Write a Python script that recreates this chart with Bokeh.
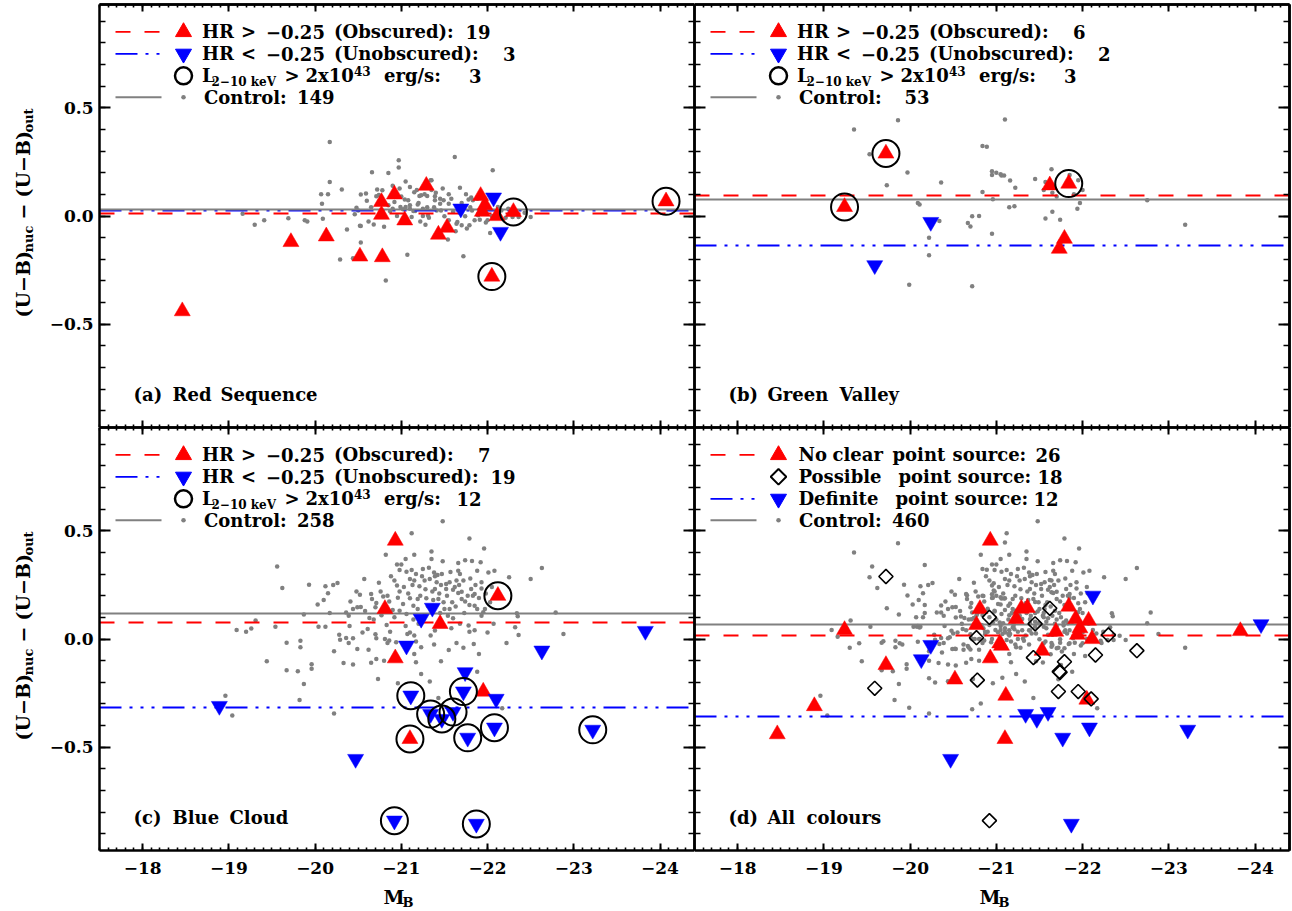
import math
from bokeh.plotting import figure
from bokeh.models import Range1d, LinearAxis, FixedTicker, CustomJSTickFormatter
from bokeh.layouts import row, column
from bokeh.embed import file_html
from bokeh.resources import INLINE
from bokeh.core.properties import value

# ---------------------------------------------------------------- data
# (a) Red Sequence
A_CTRL_MB = [-19.16, -19.30, -19.41, -19.69, -19.88, -19.91, -20.09, -20.17, -20.17, -20.07,
             -20.15, -20.08, -20.31, -20.29, -20.37, -20.44, -20.46, -20.48, -20.50, -20.52,
             -20.53, -20.53, -20.53, -20.59, -20.62, -20.66, -20.68, -20.72, -20.71, -20.74,
             -20.78, -20.82, -20.85, -20.87, -20.90, -20.92, -20.97, -20.97, -20.98, -20.99,
             -21.02, -21.04, -21.07, -21.05, -21.08, -21.10, -21.10, -21.12, -21.14, -21.16,
             -21.19, -21.21, -21.22, -21.23, -21.25, -21.27, -21.30, -21.31, -21.32, -21.34,
             -21.35, -21.39, -21.39, -21.40, -21.41, -21.45, -21.46, -21.48, -21.49, -21.50,
             -21.54, -21.55, -21.55, -21.62, -21.63, -21.64, -21.65, -21.68, -21.70, -21.72,
             -21.74, -21.76, -21.78, -21.79, -21.81, -21.82, -21.83, -21.85, -21.89, -21.90,
             -21.91, -22.03, -22.06, -22.12, -22.16, -22.21, -22.24, -22.29, -22.36, -22.43,
             -22.50,
             -20.85, -20.95, -21.00, -21.20, -21.15, -21.30, -21.35, -21.45, -21.60, -21.70,
             -21.80, -21.95, -22.00, -22.05, -20.65, -20.75, -21.10, -21.25, -21.55, -21.88,
             -20.60, -20.90, -21.05, -21.18, -21.38, -21.58, -21.75, -21.98, -20.80, -21.28]
A_CTRL_DUB = [0.010, -0.040, -0.020, -0.010, -0.020, -0.025, -0.013, 0.342, 0.157, 0.100,
              0.100, 0.057, 0.123, -0.201, -0.063, -0.195, 0.008, 0.038, 0.026, -0.045,
              -0.046, -0.122, 0.099, 0.104, -0.025, 0.202, -0.039, 0.123, 0.091, 0.097,
              0.119, -0.298, 0.199, 0.022, 0.033, 0.065, 0.258, 0.224, 0.127, 0.042,
              0.031, 0.076, -0.179, 0.042, 0.073, 0.134, 0.033, -0.005, 0.023, 0.023,
              0.053, 0.093, -0.025, 0.096, 0.034, 0.100, 0.093, 0.002, -0.008, 0.165,
              0.165, 0.091, 0.073, 0.107, 0.026, 0.057, 0.026, 0.127, 0.073, -0.001,
              -0.109, -0.020, 0.057, 0.273, -0.070, -0.036, -0.028, 0.131, -0.043, -0.186,
              -0.001, -0.058, 0.076, -0.043, 0.085, 0.026, 0.073, -0.020, 0.003, 0.011,
              -0.017, -0.079, 0.212, 0.042, 0.026, -0.008, 0.034, -0.005, -0.005, 0.015,
              -0.005,
              0.05, 0.00, 0.09, 0.06, 0.11, 0.04, 0.12, 0.08, 0.02, 0.06,
              0.04, 0.06, -0.02, 0.00, 0.04, 0.00, 0.05, 0.00, 0.10, 0.08,
              0.07, 0.14, 0.16, 0.12, 0.04, 0.08, 0.10, -0.03, -0.05, -0.04]
A_HARD_MB = [-18.46, -19.72, -20.13, -20.52, -20.78, -20.77, -20.77, -20.92, -21.04, -21.29,
             -21.43, -21.53, -21.92, -21.94, -22.11, -22.30, -22.05, -24.07, -21.97]
A_HARD_DUB = [-0.440, -0.120, -0.094, -0.187, -0.190, 0.065, 0.006, 0.100, -0.020, 0.140,
              -0.086, -0.054, 0.093, 0.020, 0.000, 0.019, -0.280, 0.068, 0.050]
A_HARD_LUM = [0, 0, 0, 0, 0, 0, 0, 0, 0, 0, 0, 0, 0, 0, 0, 1, 1, 1, 0]
A_HARD_PS = ["N", "N", "D", "N", "P", "N", "P", "P", "N", "N",
             "P", "N", "N", "N", "N", "P", "N", "D", "N"]
A_SOFT_MB = [-21.69, -22.07, -22.15]
A_SOFT_DUB = [0.034, 0.085, -0.074]
A_SOFT_LUM = [0, 0, 0]
A_SOFT_PS = ["N", "N", "P"]
A_MED_HARD, A_MED_SOFT, A_MED_CTRL = 0.012, 0.027, 0.030
A_COUNTS = ["19", "3", "3", "149"]

# (b) Green Valley
B_CTRL_MB = [-19.35, -19.86, -19.53, -19.97, -19.73, -20.36, -20.09, -20.11, -20.34, -20.22,
             -20.22, -19.99, -20.72, -20.72, -20.67, -20.70, -20.84, -20.89, -21.10, -20.95,
             -21.05, -21.06, -21.09, -21.16, -21.22, -20.84, -20.96, -21.21, -20.95, -21.45,
             -21.64, -21.57, -21.65, -21.57, -21.74, -21.95, -21.97, -21.94, -22.75, -23.19,
             -21.70, -21.55, -21.85, -21.75, -20.25, -19.25, -21.00, -20.80, -21.90, -20.95,
             -21.15, -21.65, -22.00]
B_CTRL_DUB = [0.400, 0.443, 0.286, 0.201, 0.142, 0.155, 0.060, 0.053, -0.023, -0.100,
              -0.182, -0.318, -0.325, -0.001, -0.032, -0.048, 0.324, 0.320, 0.446, 0.207,
              0.193, 0.187, 0.187, 0.164, 0.131, 0.111, 0.077, 0.045, -0.082, 0.171,
              0.216, 0.157, 0.108, -0.012, -0.017, 0.165, 0.060, 0.034, 0.073, -0.040,
              0.09, 0.12, 0.19, -0.12, -0.04, 0.05, 0.20, 0.00, 0.10, 0.19,
              0.04, 0.02, 0.12]
B_HARD_MB = [-19.72, -19.24, -21.62, -21.84, -21.79, -21.73]
B_HARD_DUB = [0.289, 0.042, 0.142, 0.150, -0.105, -0.151]
B_HARD_LUM = [1, 1, 0, 1, 0, 0]
B_HARD_PS = ["P", "N", "P", "N", "P", "P"]
B_SOFT_MB = [-20.24, -19.59]
B_SOFT_DUB = [-0.028, -0.228]
B_SOFT_LUM = [0, 0]
B_SOFT_PS = ["D", "P"]
B_MED_HARD, B_MED_SOFT, B_MED_CTRL = 0.097, -0.136, 0.077
B_COUNTS = ["6", "2", "3", "53"]

# (c) Blue Cloud
C_CTRL_MB = [-19.56, -19.62, -19.93, -20.12, -20.21, -20.26, -20.15, -20.10, -20.03, -19.87,
             -20.17, -19.31, -19.26, -19.20, -19.09, -19.54, -19.67, -19.83, -19.83, -19.44,
             -19.67, -19.80, -19.96, -19.96, -19.87, -19.82, -18.96, -19.04, -20.22, -20.04,
             -20.12, -20.28, -20.29, -20.36, -20.39, -20.44, -20.22, -20.33, -20.44, -20.49,
             -20.41, -20.52, -20.57, -20.36, -20.39, -20.44, -20.49, -20.53, -20.63, -20.61,
             -20.65, -20.66, -20.71, -20.70, -20.76, -20.79, -20.84, -20.86, -20.96, -20.82,
             -20.95, -21.00, -20.98, -20.70, -20.71, -20.87, -20.83, -20.81, -20.84, -20.86,
             -20.73, -20.65, -20.71, -20.96, -20.90, -20.94,
             -21.48, -21.12, -21.79, -21.96, -21.35, -21.15, -21.35, -21.05, -21.48, -21.66,
             -21.74, -21.82, -21.92, -21.06, -21.12, -21.25, -21.38, -21.42, -21.66, -21.68,
             -21.88, -22.01, -22.08, -22.25, -22.50, -22.63, -21.10, -21.15, -21.21, -21.27,
             -21.33, -21.39, -21.41, -21.46, -21.52, -21.56, -21.64, -21.52, -21.60, -21.70,
             -21.81, -21.85, -21.93, -21.93, -20.95, -21.10, -21.19, -21.29, -21.39, -21.43,
             -21.66, -21.70, -21.74, -21.83, -21.02, -21.14, -21.19, -21.31, -21.50, -21.56,
             -21.79, -21.85, -21.88, -21.95, -21.97, -20.98, -21.06, -20.92, -21.14, -21.54,
             -21.60, -21.93, -22.07, -22.34, -22.35, -22.32, -22.36, -22.79, -22.88, -21.07,
             -21.15, -21.34, -21.39, -21.78, -21.79, -21.17, -21.38, -21.64, -21.84, -22.22,
             -21.15, -21.23, -21.55, -21.90, -21.17, -21.46, -21.23, -21.33, -21.88, -22.17,
             -21.43,
             -20.92, -20.98, -21.03, -21.08, -21.13, -21.17, -21.22, -21.24, -21.28, -21.32,
             -21.36, -21.37, -21.44, -21.47, -21.49, -21.53, -21.57, -21.59, -21.62, -21.63,
             -21.67, -21.72, -21.73, -21.77, -21.80, -21.86, -21.90, -21.98, -22.03, -22.05,
             -21.05, -21.10, -21.20, -21.27, -21.45, -21.58, -21.68, -21.72, -21.85, -22.00,
             -20.40, -20.48, -20.55, -20.58, -20.62, -20.68, -20.74, -20.77, -20.80, -20.88]
C_CTRL_DUB = [0.335, 0.236, 0.251, 0.244, 0.250, 0.259, 0.211, 0.180, 0.159, 0.113,
              0.120, 0.085, 0.049, 0.034, 0.042, 0.057, -0.017, -0.008, -0.038, -0.103,
              -0.145, -0.149, -0.138, -0.117, -0.208, -0.282, -0.262, -0.354, -0.345, 0.057,
              0.057, 0.020, -0.004, 0.005, -0.018, 0.003, -0.057, -0.111, -0.118, -0.046,
              0.173, 0.205, 0.277, 0.123, 0.108, 0.139, 0.147, 0.148, 0.097, 0.046,
              0.208, 0.185, 0.167, 0.147, 0.220, 0.197, 0.200, 0.173, 0.191, 0.390,
              0.344, 0.344, 0.319, 0.022, 0.003, 0.034, 0.065, 0.000, -0.018, -0.007,
              -0.185, -0.110, -0.092, -0.205, 0.134, -0.015,
              0.544, 0.489, 0.465, 0.419, 0.405, 0.390, 0.370, 0.370, 0.359, 0.351,
              0.364, 0.361, 0.355, 0.311, 0.319, 0.324, 0.308, 0.296, 0.316, 0.301,
              0.316, 0.308, 0.316, 0.285, 0.278, 0.328, 0.277, 0.270, 0.244, 0.270,
              0.277, 0.290, 0.262, 0.250, 0.254, 0.262, 0.270, 0.231, 0.228, 0.219,
              0.231, 0.208, 0.262, 0.234, 0.247, 0.188, 0.185, 0.188, 0.231, 0.185,
              0.213, 0.185, 0.173, 0.200, 0.162, 0.154, 0.139, 0.151, 0.139, 0.139,
              0.157, 0.154, 0.139, 0.124, 0.139, 0.131, 0.116, 0.100, 0.090, 0.108,
              0.096, 0.108, 0.070, 0.119, 0.105, 0.054, 0.019, 0.123, 0.023, 0.023,
              0.016, 0.016, 0.039, 0.062, 0.034, -0.012, -0.026, -0.018, -0.023, -0.018,
              -0.069, -0.038, -0.051, -0.069, -0.108, -0.103, -0.162, -0.197, -0.151, -0.320,
              -0.273,
              0.27, 0.22, 0.24, 0.21, 0.25, 0.30, 0.20, 0.29, 0.23, 0.33,
              0.22, 0.18, 0.21, 0.30, 0.17, 0.20, 0.31, 0.17, 0.24, 0.15,
              0.25, 0.27, 0.12, 0.20, 0.28, 0.25, 0.19, 0.21, 0.17, 0.24,
              0.06, 0.03, 0.07, 0.11, 0.12, 0.05, 0.07, -0.04, 0.04, 0.03,
              0.06, 0.22, 0.03, 0.13, -0.05, 0.09, 0.26, 0.11, -0.10, 0.29]
C_HARD_MB = [-20.93, -20.81, -20.93, -21.45, -22.12, -21.95, -21.10]
C_HARD_DUB = [0.455, 0.139, -0.089, 0.070, 0.200, -0.243, -0.462]
C_HARD_LUM = [0, 0, 0, 0, 1, 0, 1]
C_HARD_PS = ["N", "N", "N", "P", "D", "P", "N"]
C_SOFT_MB = [-18.89, -20.47, -21.23, -21.36, -21.06, -21.74, -21.72, -21.11, -22.10, -22.63,
             -23.83, -23.22, -22.08, -21.77, -21.34, -21.47, -21.60, -20.92, -21.87]
C_SOFT_DUB = [-0.310, -0.555, 0.093, 0.144, -0.031, -0.154, -0.243, -0.262, -0.277, -0.054,
              0.037, -0.420, -0.410, -0.457, -0.347, -0.370, -0.338, -0.840, -0.855]
C_SOFT_LUM = [0, 0, 0, 0, 0, 0, 1, 1, 0, 0, 0, 1, 1, 1, 1, 1, 1, 1, 1]
C_SOFT_PS = ["N", "D", "N", "N", "N", "P", "P", "N", "P", "P",
             "N", "D", "D", "D", "D", "D", "D", "P", "D"]
C_MED_HARD, C_MED_SOFT, C_MED_CTRL = 0.077, -0.319, 0.120
C_COUNTS = ["7", "19", "12", "258"]

# (d) All colours: medians and counts
D_MED_NONE, D_MED_DEF, D_MED_CTRL = 0.018, -0.359, 0.069
D_COUNTS = ["26", "18", "12", "460"]

# ---------------------------------------------------------------- style
FONT = "DejaVu Serif"
RED, BLUE, GRAY = "#ff0000", "#0000ff", "#808080"
XR = (-17.5, -24.4)
YR = (-0.978, 0.978)
FW, FH = 595, 423
LEFT_B, BOT_B, TOP_B, RIGHT_B = 50, 34, 4, 6
YLAB_W = 46
XLAB_H = 27
DASH_RED = "15 14"
DASH_BLUE = "22 8 3 8 3 8 3 8"


def px2x(dx):
    return XR[0] + (XR[1] - XR[0]) * dx / FW


DYPX = (YR[1] - YR[0]) / FH
XMAJ = [-18, -19, -20, -21, -22, -23, -24]
XMIN = [round(-17.5 - 0.1 * i, 1) for i in range(70)]
YMAJ = [-0.5, 0.0, 0.5]
YMIN = [round(-0.9 + 0.1 * i, 1) for i in range(19)]


def base_axis(ticker):
    ax = LinearAxis(ticker=ticker)
    ax.axis_line_width = 2.5
    ax.axis_line_color = "black"
    ax.major_tick_out = 0
    ax.minor_tick_out = 0
    ax.major_tick_line_width = 2
    ax.minor_tick_line_width = 1.6
    ax.axis_label_standoff = 0
    return ax


def add_axis(p, side, labels):
    is_x = side in ("below", "above")
    maj, mnr = (XMAJ, XMIN) if is_x else (YMAJ, YMIN)
    long_t, short_t = (7, 3) if is_x else (11, 6)
    if labels:
        ax = base_axis(FixedTicker(ticks=maj, minor_ticks=mnr))
        ax.major_tick_in = long_t
        ax.minor_tick_in = short_t
        digits = 0 if is_x else 1
        ax.formatter = CustomJSTickFormatter(
            code="return (tick < -1e-9 ? '\u2212' : '') + Math.abs(tick).toFixed(%d);" % digits)
        ax.major_label_text_font = FONT
        ax.major_label_text_font_size = "17px"
        ax.major_label_text_font_style = "bold"
        ax.major_label_text_color = "black"
        ax.major_label_standoff = 11 if is_x else 6
        p.add_layout(ax, side)
    else:
        # unlabelled mirror axes: tick marks only (drawn as minor ticks, no tick labels)
        ax1 = base_axis(FixedTicker(ticks=[], minor_ticks=mnr))
        ax1.minor_tick_in = short_t
        ax2 = base_axis(FixedTicker(ticks=[], minor_ticks=maj))
        ax2.minor_tick_in = long_t
        ax2.minor_tick_line_width = 2
        p.add_layout(ax1, side)
        p.add_layout(ax2, side)


def make_panel(left, right, top, bottom, xlab, ylab):
    p = figure(frame_width=FW, frame_height=FH,
               x_range=Range1d(*XR), y_range=Range1d(*YR),
               x_axis_type=None, y_axis_type=None,
               output_backend="svg", toolbar_location=None,
               min_border_left=left, min_border_right=right,
               min_border_top=top, min_border_bottom=bottom,
               background_fill_color="white", border_fill_color="white",
               outline_line_color=None)
    add_axis(p, "left", ylab)
    add_axis(p, "below", xlab)
    add_axis(p, "right", False)
    add_axis(p, "above", False)
    return p


def txt(p, x, y, s, size="18px", align="left", angle=0.0):
    p.text(x=[x], y=[y], text=[s], angle=angle, text_font=value(FONT),
           text_font_size=value(size), text_font_style=value("bold"),
           text_baseline=value("middle"), text_align=value(align), text_color="black")


ROWS = [0.851, 0.750, 0.648, 0.549]
LX = [px2x(16), px2x(62)]
SX = px2x(84)
NUM_RIGHT = [391, 416, 382, 235]


def words(p, r, items):
    for off, s in items:
        txt(p, px2x(off), ROWS[r], s)


def number(p, r, s, right):
    txt(p, px2x(right), ROWS[r], s, align="right")


def legend_line(p, r, color, dash):
    p.line(LX, [ROWS[r]] * 2, line_color=color, line_dash=dash, line_width=1.8)


def title(p, w1, w2, w2_off):
    txt(p, px2x(34), -0.825, w1)
    txt(p, px2x(73), -0.825, w2[0])
    txt(p, px2x(w2_off), -0.825, w2[1])


def draw_hr_panel(p, cx, cy, hx, hy, hl, sx, sy, sl, mh, ms, mc, counts):
    p.scatter(cx, cy, marker="circle", size=4.5, fill_color=GRAY, line_color=None)
    p.hspan(y=[mh], line_color=RED, line_dash=DASH_RED, line_width=1.8)
    p.hspan(y=[ms], line_color=BLUE, line_dash=DASH_BLUE, line_width=1.8)
    p.hspan(y=[mc], line_color=GRAY, line_width=1.8)
    p.scatter(hx, hy, marker="triangle", size=16, fill_color=RED, line_color=RED, line_width=0.5)
    p.scatter(sx, sy, marker="inverted_triangle", size=16, fill_color=BLUE, line_color=BLUE,
              line_width=0.5)
    lx = [x for x, l in zip(hx + sx, hl + sl) if l]
    ly = [y for y, l in zip(hy + sy, hl + sl) if l]
    p.scatter(lx, ly, marker="circle", size=27, fill_color=None, line_color="black", line_width=2)
    # legend
    legend_line(p, 0, RED, DASH_RED)
    p.scatter([SX], [ROWS[0]], marker="triangle", size=16, fill_color=RED, line_color=RED)
    words(p, 0, [(102.5, "HR"), (141.5, ">"), (166.5, "\u22120.25"), (234.5, "(Obscured):")])
    number(p, 0, counts[0], NUM_RIGHT[0])
    legend_line(p, 1, BLUE, DASH_BLUE)
    p.scatter([SX], [ROWS[1]], marker="inverted_triangle", size=16, fill_color=BLUE, line_color=BLUE)
    words(p, 1, [(102.5, "HR"), (141.5, "<"), (166.5, "\u22120.25"), (234.5, "(Unobscured):")])
    number(p, 1, counts[1], NUM_RIGHT[1])
    p.scatter([SX], [ROWS[2]], marker="circle", size=17, fill_color=None, line_color="black",
              line_width=2.5)
    y2 = ROWS[2]
    txt(p, px2x(102.5), y2, "L")
    txt(p, px2x(112), y2 - 6 * DYPX, "2\u221210 keV", "12px")
    txt(p, px2x(185), y2, ">")
    txt(p, px2x(206), y2, "2x10")
    txt(p, px2x(254.5), y2 + 5 * DYPX, "43", "12px")
    txt(p, px2x(284.5), y2, "erg/s:")
    number(p, 2, counts[2], NUM_RIGHT[2])
    p.line(LX, [ROWS[3]] * 2, line_color=GRAY, line_width=1.8)
    p.scatter([SX], [ROWS[3]], marker="circle", size=4.5, fill_color=GRAY, line_color=None)
    words(p, 3, [(104.5, "Control:")])
    number(p, 3, counts[3], NUM_RIGHT[3])


pa = make_panel(LEFT_B, 0, TOP_B, 0, False, True)
draw_hr_panel(pa, A_CTRL_MB, A_CTRL_DUB, A_HARD_MB, A_HARD_DUB, A_HARD_LUM,
              A_SOFT_MB, A_SOFT_DUB, A_SOFT_LUM, A_MED_HARD, A_MED_SOFT, A_MED_CTRL, A_COUNTS)
title(pa, "(a)", ("Red", "Sequence"), 121)

pb = make_panel(0, RIGHT_B, TOP_B, 0, False, False)
draw_hr_panel(pb, B_CTRL_MB, B_CTRL_DUB, B_HARD_MB, B_HARD_DUB, B_HARD_LUM,
              B_SOFT_MB, B_SOFT_DUB, B_SOFT_LUM, B_MED_HARD, B_MED_SOFT, B_MED_CTRL, B_COUNTS)
title(pb, "(b)", ("Green", "Valley"), 145)

pc = make_panel(LEFT_B, 0, 0, BOT_B, True, True)
draw_hr_panel(pc, C_CTRL_MB, C_CTRL_DUB, C_HARD_MB, C_HARD_DUB, C_HARD_LUM,
              C_SOFT_MB, C_SOFT_DUB, C_SOFT_LUM, C_MED_HARD, C_MED_SOFT, C_MED_CTRL, C_COUNTS)
title(pc, "(c)", ("Blue", "Cloud"), 130)

# (d) all colours: union of the three samples, split by point-source class
pd_ = make_panel(0, RIGHT_B, 0, BOT_B, True, False)
D_CTRL_MB = A_CTRL_MB + B_CTRL_MB + C_CTRL_MB
D_CTRL_DUB = A_CTRL_DUB + B_CTRL_DUB + C_CTRL_DUB
AGN_MB = A_HARD_MB + A_SOFT_MB + B_HARD_MB + B_SOFT_MB + C_HARD_MB + C_SOFT_MB
AGN_DUB = A_HARD_DUB + A_SOFT_DUB + B_HARD_DUB + B_SOFT_DUB + C_HARD_DUB + C_SOFT_DUB
AGN_PS = A_HARD_PS + A_SOFT_PS + B_HARD_PS + B_SOFT_PS + C_HARD_PS + C_SOFT_PS


def sel(cls, arr):
    return [v for v, c in zip(arr, AGN_PS) if c == cls]


pd_.scatter(D_CTRL_MB, D_CTRL_DUB, marker="circle", size=4.5, fill_color=GRAY, line_color=None)
pd_.hspan(y=[D_MED_NONE], line_color=RED, line_dash=DASH_RED, line_width=1.8)
pd_.hspan(y=[D_MED_DEF], line_color=BLUE, line_dash=DASH_BLUE, line_width=1.8)
pd_.hspan(y=[D_MED_CTRL], line_color=GRAY, line_width=1.8)
pd_.scatter(sel("N", AGN_MB), sel("N", AGN_DUB), marker="triangle", size=16,
            fill_color=RED, line_color=RED, line_width=0.5)
pd_.scatter(sel("D", AGN_MB), sel("D", AGN_DUB), marker="inverted_triangle", size=16,
            fill_color=BLUE, line_color=BLUE, line_width=0.5)
pd_.scatter(sel("P", AGN_MB), sel("P", AGN_DUB), marker="square", angle=math.pi / 4, size=10,
            fill_color=None, line_color="black", line_width=1.6)
legend_line(pd_, 0, RED, DASH_RED)
pd_.scatter([SX], [ROWS[0]], marker="triangle", size=16, fill_color=RED, line_color=RED)
words(pd_, 0, [(104, "No"), (138, "clear"), (198, "point"), (258, "source:")])
number(pd_, 0, D_COUNTS[0], 366)
pd_.scatter([SX], [ROWS[1]], marker="square", angle=math.pi / 4, size=11, fill_color=None,
            line_color="black", line_width=2)
words(pd_, 1, [(104, "Possible"), (204, "point"), (263, "source:")])
number(pd_, 1, D_COUNTS[1], 368)
legend_line(pd_, 2, BLUE, DASH_BLUE)
pd_.scatter([SX], [ROWS[2]], marker="inverted_triangle", size=16, fill_color=BLUE, line_color=BLUE)
words(pd_, 2, [(104, "Definite"), (201, "point"), (260, "source:")])
number(pd_, 2, D_COUNTS[2], 364)
pd_.line(LX, [ROWS[3]] * 2, line_color=GRAY, line_width=1.8)
pd_.scatter([SX], [ROWS[3]], marker="circle", size=4.5, fill_color=GRAY, line_color=None)
words(pd_, 3, [(104.5, "Control:")])
number(pd_, 3, D_COUNTS[3], 235)
title(pd_, "(d)", ("All", "colours"), 112)

# ---------------------------------------------------------------- axis titles (own strips)
YLAB_H = TOP_B + 2 * FH + BOT_B
ylab = figure(width=YLAB_W, height=YLAB_H, x_range=Range1d(0, YLAB_W), y_range=Range1d(0, YLAB_H),
              x_axis_type=None, y_axis_type=None, output_backend="svg", toolbar_location=None,
              min_border=0, outline_line_color=None, background_fill_color="white",
              border_fill_color="white")
for y0 in (YLAB_H - 317, YLAB_H - 317 - FH):
    txt(ylab, 22, y0, "(U\u2212B)", "19px", angle=math.pi / 2)
    txt(ylab, 28, y0 + 65, "nuc", "13px", angle=math.pi / 2)
    txt(ylab, 22, y0 + 98, "\u2212", "19px", angle=math.pi / 2)
    txt(ylab, 22, y0 + 120, "(U\u2212B)", "19px", angle=math.pi / 2)
    txt(ylab, 28, y0 + 185, "out", "13px", angle=math.pi / 2)

TOT_W = YLAB_W + LEFT_B + 2 * FW + RIGHT_B
xlab = figure(width=TOT_W, height=XLAB_H, x_range=Range1d(0, TOT_W), y_range=Range1d(0, XLAB_H),
              x_axis_type=None, y_axis_type=None, output_backend="svg", toolbar_location=None,
              min_border=0, outline_line_color=None, background_fill_color="white",
              border_fill_color="white")
for mx in (383, 979):
    txt(xlab, mx, 15, "M", "19px")
    txt(xlab, mx + 19, 9, "B", "13px")

layout = column(row(ylab, column(row(pa, pb), row(pc, pd_))), xlab)
open("out.html", "w").write(file_html(layout, INLINE))
